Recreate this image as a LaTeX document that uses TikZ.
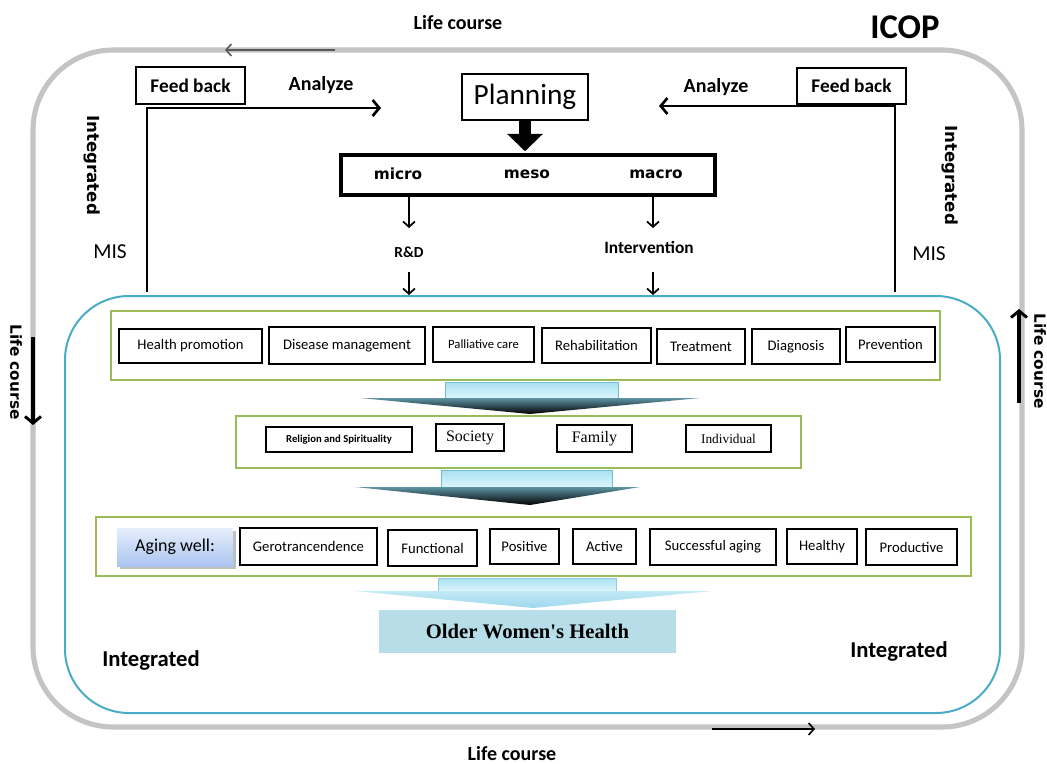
\documentclass[tikz,border=0pt]{standalone}
\usepackage{fontspec}
\setmainfont{Carlito}
\newfontfamily\dvs{DejaVu Sans}
\newfontfamily\tms{Liberation Serif}
\usetikzlibrary{arrows.meta}
\definecolor{lgray}{HTML}{C4C4C4}
\definecolor{iblue}{HTML}{4BACC6}
\definecolor{ggreen}{HTML}{9BBB59}
\definecolor{owh}{HTML}{B7DDE8}
\definecolor{chevtop}{HTML}{A9E0F2}
\definecolor{chevbot}{HTML}{DDF5FC}
\definecolor{chevdark}{HTML}{5E93A3}
\definecolor{chevlt}{HTML}{C2E9F6}
\definecolor{chevlb}{HTML}{9FD8EC}
\definecolor{awtop}{HTML}{E6EEFC}
\definecolor{awbot}{HTML}{ABC5F1}
\tikzset{
  sz/.style 2 args={minimum width=#1*0.75pt, minimum height=#2*0.75pt},
  box/.style={draw, line width=0.9pt, inner sep=0pt, align=center, font=\fontsize{11}{12}\selectfont},
  gbox/.style={draw=ggreen, line width=1.6pt, inner sep=0pt},
  fbarr/.style={line width=2.2pt, line join=miter, -{Straight Barb[length=5pt,width=12pt,line width=2pt]}},
  sarr/.style={line width=1.1pt, -{Straight Barb[length=4pt,width=9pt,line width=1.3pt]}},
  lcarr/.style={line width=2.4pt, -{Straight Barb[length=5pt,width=12pt,line width=2.2pt]}},
  thinarr/.style={line width=1.2pt, -{Straight Barb[length=4pt,width=9pt,line width=1.2pt]}},
  vtxt/.style={rotate=-90, inner sep=0pt, font=\dvs\bfseries\fontsize{12.5}{13}\selectfont},
  vlc/.style={rotate=-90, inner sep=0pt, font=\dvs\bfseries\fontsize{11.5}{12}\selectfont},
  bold15/.style={inner sep=0pt, font=\bfseries\fontsize{15}{16}\selectfont},
}
\begin{document}
\begin{tikzpicture}[x=0.75pt,y=-0.75pt]
\useasboundingbox (0,0) rectangle (1047,764);
\fill[white] (0,0) rectangle (1047,764);
% frames
\node[draw=lgray, line width=3.8pt, rounded corners=60pt, sz={989}{677}] (outer) at (527.5,388.5) {};
\node[draw=iblue, line width=1.5pt, rounded corners=48pt, sz={935}{417}] (inner) at (532.5,504.5) {};
% top labels
\node[bold15] (lctop) at (458,23) {Life course};
\node[inner sep=0pt, font=\bfseries\fontsize{26}{28}\selectfont] (icop) at (905,27) {ICOP};
\coordinate (lta) at (335,50);
\coordinate (ltb) at (225,50);
\draw[thinarr, black!65] (lta) -- (ltb);
% feedback
\node[box, font=\bfseries\fontsize{14.5}{15}\selectfont, sz={109}{37}] (fbL) at (190.5,85.5) {Feed back};
\node[box, font=\bfseries\fontsize{14.5}{15}\selectfont, sz={109}{36}] (fbR) at (851.5,86) {Feed back};
\node[bold15] (anL) at (321,85) {Analyze};
\node[bold15] (anR) at (716,87) {Analyze};
\node[box, font=\fontsize{22}{24}\selectfont, sz={126}{46}] (plan) at (525,97) {Planning};
\node[draw, line width=2.6pt, sz={374}{40}] (mmm) at (528,175) {};
\node[inner sep=0pt, font=\dvs\bfseries\fontsize{11.5}{12}\selectfont] (micro) at (398,174) {micro};
\node[inner sep=0pt, font=\dvs\bfseries\fontsize{11.5}{12}\selectfont] (meso) at (527,174) {meso};
\node[inner sep=0pt, font=\dvs\bfseries\fontsize{11.5}{12}\selectfont] (macro) at (656,174) {macro};
\draw[line width=9pt, -{Triangle[width=26pt,length=13pt]}] (plan.south) -- ([yshift=1.5pt]plan.south |- mmm.north);
% feedback loops
\coordinate (fl0) at (147,292);
\coordinate (fl1) at (147,108);
\coordinate (fl2) at (381,108);
\draw[fbarr] (fl0) -- (fl1) -- (fl2);
\coordinate (fr0) at (895,292);
\coordinate (fr1) at (895,106);
\coordinate (fr2) at (659,106);
\draw[fbarr] (fr0) -- (fr1) -- (fr2);
\node[vtxt] (intL) at (92,165) {Integrated};
\node[vtxt] (intR) at (950,175) {Integrated};
\node[inner sep=0pt, font=\fontsize{16}{17}\selectfont] (misL) at (110,252) {MIS};
\node[inner sep=0pt, font=\fontsize{16}{17}\selectfont] (misR) at (929,254) {MIS};
% R&D, Intervention
\node[inner sep=0pt, font=\bfseries\fontsize{11.5}{12}\selectfont] (rd) at (409,252) {R\&D};
\node[inner sep=0pt, font=\bfseries\fontsize{13}{14}\selectfont] (iv) at (649,247) {Intervention};
\coordinate (rda) at (409,228);
\coordinate (rdb) at (409,272);
\coordinate (iva) at (653,228);
\coordinate (ivb) at (653,272);
\draw[sarr] (mmm.south -| rda) -- (rda);
\draw[sarr] (rdb) -- (rdb |- inner.north);
\draw[sarr] (mmm.south -| iva) -- (iva);
\draw[sarr] (ivb) -- (ivb |- inner.north);
% side life course
\node[vlc] (lcL) at (16,372) {Life course};
\node[vlc] (lcR) at (1040,361) {Life course};
\coordinate (lla) at (33,337);
\coordinate (llb) at (33,425);
\draw[lcarr] (lla) -- (llb);
\coordinate (lra) at (1019,403);
\coordinate (lrb) at (1019,309);
\draw[lcarr] (lra) -- (lrb);
% bottom
\coordinate (lba) at (712,729);
\coordinate (lbb) at (815,729);
\draw[thinarr] (lba) -- (lbb);
\node[bold15] (lcbot) at (512,754) {Life course};
\node[inner sep=0pt, font=\bfseries\fontsize{17}{18}\selectfont] (intBL) at (151,660) {Integrated};
\node[inner sep=0pt, font=\bfseries\fontsize{17}{18}\selectfont] (intBR) at (899,651) {Integrated};
% row 1
\node[gbox, sz={829}{69}] (g1) at (525.5,345.5) {};
\node[box, sz={143}{34}] (hp) at (190.5,346) {Health promotion};
\node[box, sz={156}{37}] (dm) at (347,345.5) {Disease management};
\node[box, sz={101}{35}, font=\fontsize{9.5}{10}\selectfont] (pc) at (483.5,344.5) {Palliative care};
\node[box, sz={109}{35}] (rh) at (596.5,345.5) {Rehabilitation};
\node[box, sz={88}{35}] (tr) at (701,346.5) {Treatment};
\node[box, sz={88}{35}] (dg) at (796,346.5) {Diagnosis};
\node[box, sz={89}{35}] (pv) at (890.5,344.5) {Prevention};
% chevron 1
\shade[top color=chevtop, bottom color=chevbot, draw=iblue!80, line width=0.4pt] (445,382) rectangle (618,398);
\shade[top color=chevdark, bottom color=black] (360,398) -- (700,398) -- (530,414) -- cycle;
% row 2
\node[gbox, sz={565}{52}] (g2) at (518.5,442) {};
\node[box, sz={146}{25}, font=\bfseries\fontsize{8}{9}\selectfont] (rs) at (339,439.5) {Religion and Spirituality};
\node[box, sz={68}{27}, font=\tms\fontsize{12}{13}\selectfont] (so) at (470,437.5) {Society};
\node[box, sz={75}{27}, font=\tms\fontsize{12}{13}\selectfont] (fa) at (594.5,438.5) {Family};
\node[box, sz={85}{27}, font=\tms\fontsize{10}{11}\selectfont] (ind) at (728.5,438.5) {Individual};
% chevron 2
\shade[top color=chevtop, bottom color=chevbot, draw=iblue!80, line width=0.4pt] (441,470) rectangle (612,487);
\shade[top color=chevdark, bottom color=black] (355,487) -- (640,487) -- (530,505) -- cycle;
% row 3
\node[gbox, sz={875}{59}] (g3) at (533.5,546.5) {};
\fill[black!25] (120,531) rectangle (236,569);
\node[inner sep=0pt, top color=awtop, bottom color=awbot, sz={116}{38}, font=\fontsize{13.5}{14}\selectfont] (aw) at (175,547) {Aging well:};
\node[box, sz={137}{37}] (ge) at (308.5,546.5) {Gerotrancendence};
\node[box, sz={89}{36}] (fu) at (432.5,548) {Functional};
\node[box, sz={69}{35}] (po) at (524.5,546.5) {Positive};
\node[box, sz={63}{35}] (ac) at (604.5,546.5) {Active};
\node[box, sz={126}{36}] (sa) at (713,547) {Successful aging};
\node[box, sz={70}{35}] (he) at (822,546.5) {Healthy};
\node[box, sz={91}{36}] (pr) at (911.5,547) {Productive};
% chevron 3
\shade[top color=chevtop, bottom color=chevbot, draw=iblue!60, line width=0.4pt] (438,578) rectangle (616,591);
\shade[top color=chevlt, bottom color=chevlb] (355,591) -- (712,591) -- (533,608) -- cycle;
% result
\node[inner sep=0pt, fill=owh, sz={297}{43}, font=\tms\bfseries\fontsize{15.5}{16}\selectfont] (owhn) at (527.5,631.5) {Older Women's Health};
\end{tikzpicture}
\end{document}
